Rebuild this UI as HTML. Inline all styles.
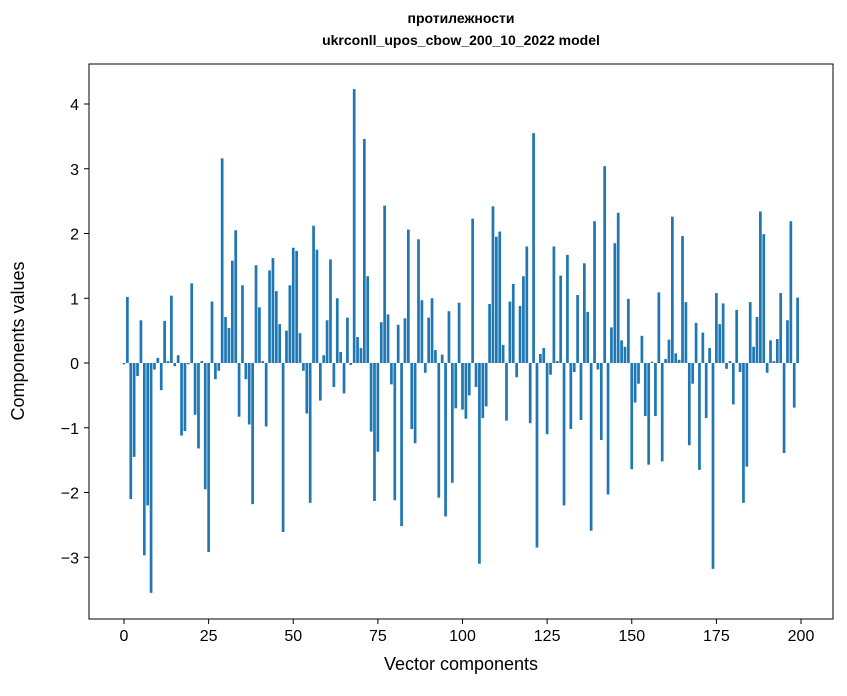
<!DOCTYPE html>
<html><head><meta charset="utf-8"><style>body{margin:0;background:#fff}svg{display:block;font-family:"Liberation Sans","DejaVu Sans",sans-serif}</style></head>
<body>
<svg id="chart" width="847" height="696" xmlns="http://www.w3.org/2000/svg">
<text x="461" y="23" text-anchor="middle" font-size="14" font-weight="bold">протилежности</text>
<text x="461" y="45" text-anchor="middle" font-size="14" font-weight="bold">ukrconll_upos_cbow_200_10_2022 model</text>
<g id="bars"></g>
<g id="axes"></g>
<rect x="89" y="64" width="744" height="555" fill="none" stroke="#000" stroke-width="1"/>
<text x="461" y="670" text-anchor="middle" font-size="18">Vector components</text>
<text transform="translate(24,341) rotate(-90)" text-anchor="middle" font-size="18">Components values</text>
</svg>
<script>
const values=[-0.02,1.02,-2.1,-1.45,-0.2,0.66,-2.97,-2.2,-3.55,-0.1,0.08,-0.42,0.65,0.03,1.04,-0.05,0.12,-1.12,-1.05,-0.02,
1.23,-0.8,-1.32,0.03,-1.95,-2.92,0.95,-0.25,-0.12,3.16,0.71,0.54,1.58,2.05,-0.83,1.2,-0.25,-0.95,-2.18,1.51,
0.86,0.03,-0.98,1.43,1.62,1.11,0.6,-2.61,0.5,1.2,1.78,1.73,0.46,-0.12,-0.78,-2.16,2.12,1.75,-0.58,0.12,
0.66,1.6,-0.37,1.0,0.17,-0.47,0.7,-0.03,4.23,0.4,0.23,3.46,1.34,-1.06,-2.13,-1.37,0.63,2.43,0.75,-0.33,
-2.12,0.59,-2.52,0.69,2.06,-1.02,-1.24,1.91,0.97,-0.15,0.7,1.0,0.2,-2.08,0.13,-2.37,0.8,-1.85,-0.7,0.93,
-0.72,-0.86,-0.5,2.23,-0.37,-3.1,-0.85,-0.67,0.91,2.42,1.95,2.03,0.28,-0.89,0.95,1.22,-0.22,0.88,1.34,1.8,
-0.93,3.55,-2.85,0.14,0.23,-1.1,-0.18,1.8,0.03,1.35,-2.2,1.67,-1.02,-0.14,1.05,-0.88,1.54,0.79,-2.59,2.19,
-0.1,-1.19,3.04,-2.03,0.55,1.85,2.32,0.35,0.25,0.99,-1.64,-0.61,-0.32,0.42,-0.82,-1.57,0.02,-0.82,1.09,-1.52,
0.06,0.36,2.26,0.15,0.05,1.96,0.94,-1.27,-0.32,0.62,-1.65,0.47,-0.85,0.23,-3.18,1.08,0.6,0.92,-0.09,0.03,
-0.64,0.82,-0.14,-2.16,-1.6,0.94,0.25,0.71,2.34,1.99,-0.15,0.35,0.03,0.37,1.08,-1.39,0.66,2.19,-0.69,1.01];
const xTicks=[0,25,50,75,100,125,150,175,200];
const yTicks=[-3,-2,-1,0,1,2,3,4];
const NS="http://www.w3.org/2000/svg";
function xs(v){return 124+v*(801-124)/200;}
function ys(v){return 363-v*64.75;}
const bars=document.getElementById('bars');
values.forEach((v,i)=>{
  const r=document.createElementNS(NS,'rect');
  
  
  const w=0.8*(801-124)/200;
  r.setAttribute('x',xs(i)-w/2);
  r.setAttribute('width',w);
  r.setAttribute('y',Math.min(ys(v),ys(0)));
  r.setAttribute('height',Math.abs(ys(v)-ys(0)));
  r.setAttribute('fill','#1f77b4');
  bars.appendChild(r);
});
const axes=document.getElementById('axes');
xTicks.forEach(t=>{
  const l=document.createElementNS(NS,'line');
  
  
  l.setAttribute('x1',xs(t));l.setAttribute('x2',xs(t));l.setAttribute('y1',619);l.setAttribute('y2',624);l.setAttribute('stroke','#000');
  axes.appendChild(l);
  const tx=document.createElementNS(NS,'text');
  
  
  tx.setAttribute('x',xs(t));tx.setAttribute('y',641);tx.setAttribute('text-anchor','middle');tx.setAttribute('font-size','16');
  tx.textContent=t;axes.appendChild(tx);
});
yTicks.forEach(t=>{
  const l=document.createElementNS(NS,'line');
  
  
  l.setAttribute('x1',84);l.setAttribute('x2',89);l.setAttribute('y1',ys(t));l.setAttribute('y2',ys(t));l.setAttribute('stroke','#000');
  axes.appendChild(l);
  const tx=document.createElementNS(NS,'text');
  
  
  tx.setAttribute('x',79);tx.setAttribute('y',ys(t)+6);tx.setAttribute('text-anchor','end');tx.setAttribute('font-size','16');
  tx.textContent=t<0?'\u2212'+Math.abs(t):t;axes.appendChild(tx);
});
</script>
</body></html>
